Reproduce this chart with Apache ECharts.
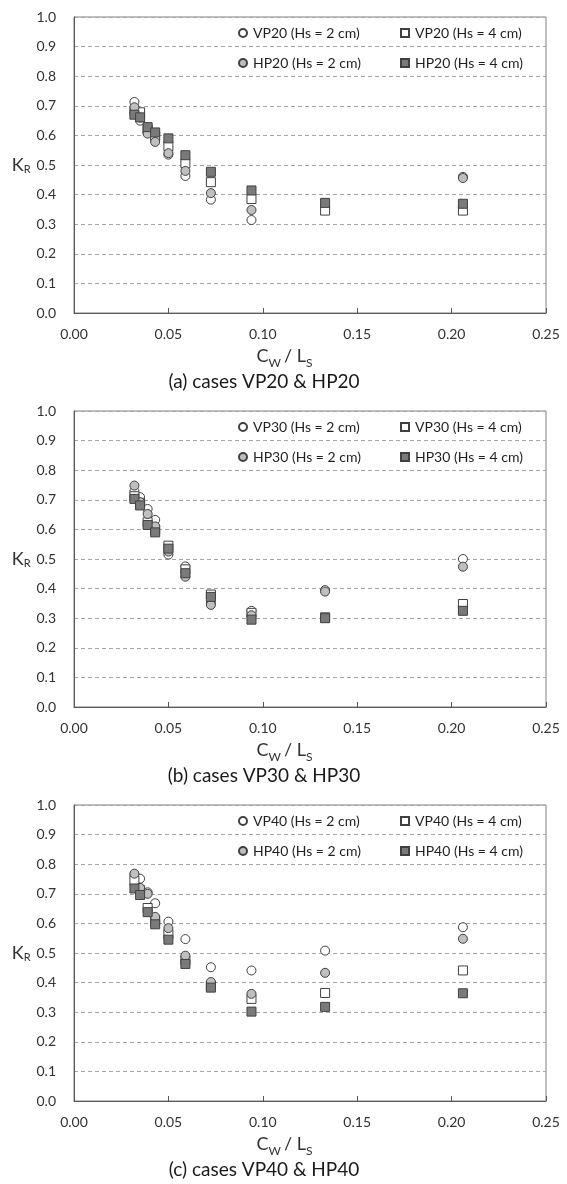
<!DOCTYPE html>
<html>
<head>
<meta charset="utf-8">
<script src="https://cdn.jsdelivr.net/npm/echarts@6/dist/echarts.min.js"></script>
<style>
  html, body { margin: 0; padding: 0; background: #ffffff; }
  #chart { width: 567px; height: 1184px; }
</style>
</head>
<body>
<div id="chart"></div>
<script>
// ---- data ----
const xVals = [0.032, 0.035, 0.039, 0.043, 0.050, 0.059, 0.0725, 0.094, 0.133, 0.206];
const xTicks = [0, 0.05, 0.10, 0.15, 0.20, 0.25];
const yTicks = [0, 0.1, 0.2, 0.3, 0.4, 0.5, 0.6, 0.7, 0.8, 0.9, 1.0];

const vp20_2 = [0.713, 0.650, 0.610, 0.585, 0.535, 0.463, 0.383, 0.314, null, 0.460];
const vp20_4 = [0.683, 0.678, 0.620, 0.600, 0.564, 0.506, 0.442, 0.385, 0.346, 0.346];
const hp20_2 = [0.695, 0.660, 0.606, 0.578, 0.540, 0.480, 0.405, 0.348, null, 0.456];
const hp20_4 = [0.670, 0.661, 0.628, 0.610, 0.590, 0.533, 0.477, 0.414, 0.372, 0.369];

const vp30_2 = [0.729, 0.709, 0.669, 0.632, 0.515, 0.475, 0.350, 0.325, 0.395, 0.500];
const vp30_4 = [0.712, 0.690, 0.624, 0.600, 0.545, 0.465, 0.380, 0.318, 0.303, 0.348];
const hp30_2 = [0.748, 0.692, 0.652, 0.610, 0.525, 0.440, 0.345, 0.310, 0.390, 0.474];
const hp30_4 = [0.703, 0.681, 0.615, 0.590, 0.535, 0.452, 0.372, 0.295, 0.300, 0.325];

const vp40_2 = [0.765, 0.751, 0.705, 0.668, 0.606, 0.547, 0.452, 0.441, 0.508, 0.587];
const vp40_4 = [0.745, 0.712, 0.652, 0.610, 0.564, 0.475, 0.390, 0.345, 0.365, 0.441];
const hp40_2 = [0.768, 0.720, 0.700, 0.622, 0.584, 0.491, 0.402, 0.362, 0.433, 0.548];
const hp40_4 = [0.718, 0.696, 0.638, 0.597, 0.545, 0.463, 0.383, 0.302, 0.318, 0.364];

const panels = [
  { tag: '20', caption: '(a) cases VP20 & HP20', vp2: vp20_2, vp4: vp20_4, hp2: hp20_2, hp4: hp20_4 },
  { tag: '30', caption: '(b) cases VP30 & HP30', vp2: vp30_2, vp4: vp30_4, hp2: hp30_2, hp4: hp30_4 },
  { tag: '40', caption: '(c) cases VP40 & HP40', vp2: vp40_2, vp4: vp40_4, hp2: hp40_2, hp4: hp40_4 }
];

// ---- layout/style ----
const FONT = 'Lato, "Open Sans", sans-serif';
const gridTops = [17, 411, 805];
const gridLeft = 74, gridW = 472, gridH = 296;
const TXT = '#333333';

const styles = {
  vp2: { symbol: 'circle', color: '#ffffff' },
  vp4: { symbol: 'rect', color: '#ffffff' },
  hp2: { symbol: 'circle', color: '#bfbfbf' },
  hp4: { symbol: 'rect', color: '#7a7a7a' }
};

const grids = [], xAxes = [], yAxes = [], series = [], legends = [], titles = [];

function pairs(arr) {
  const out = [];
  arr.forEach((v, i) => { if (v !== null) out.push([xVals[i], v]); });
  return out;
}

panels.forEach((p, k) => {
  const top = gridTops[k];
  grids.push({ left: gridLeft, top: top, width: gridW, height: gridH, show: true,
    borderColor: '#808080', borderWidth: 1, backgroundColor: 'transparent' });
  xAxes.push({
    type: 'value', gridIndex: k, min: 0, max: 0.25, interval: 0.05,
    axisLine: { show: true, lineStyle: { color: '#595959', width: 1 } },
    axisTick: { show: true, inside: true, length: 5, lineStyle: { color: '#595959' } },
    splitLine: { show: false },
    axisLabel: { fontFamily: FONT, fontSize: 14, color: TXT, margin: 14,
      formatter: v => v.toFixed(2) },
    name: '{b|C}{s|W}{b|/ L}{s|S}',
    nameLocation: 'middle', nameGap: 32,
    nameTextStyle: { padding: [0, 48, 0, 0],
      rich: {
        b: { fontFamily: FONT, fontSize: 18, color: TXT, verticalAlign: 'bottom', lineHeight: 20 },
        s: { fontFamily: FONT, fontSize: 12, color: TXT, verticalAlign: 'bottom', lineHeight: 14, padding: [0, 3, -4, 0] }
      } }
  });
  yAxes.push({
    type: 'value', gridIndex: k, min: 0, max: 1, interval: 0.1,
    axisLine: { show: true, lineStyle: { color: '#595959', width: 1 } },
    axisTick: { show: false },
    splitLine: { show: true, lineStyle: { color: '#a6a6a6', type: [4, 3], width: 1 } },
    axisLabel: { fontFamily: FONT, fontSize: 14, color: TXT, margin: 18,
      formatter: v => v.toFixed(1) },
    name: '{b|K}{s|R}',
    nameLocation: 'middle', nameRotate: 0, nameGap: 42,
    nameTextStyle: {
      rich: {
        b: { fontFamily: FONT, fontSize: 18, color: TXT },
        s: { fontFamily: FONT, fontSize: 11, color: TXT, padding: [8, 0, 0, 0] }
      } }
  });
  const names = {
    vp2: 'VP' + p.tag + ' (Hs = 2 cm)',
    vp4: 'VP' + p.tag + ' (Hs = 4 cm)',
    hp2: 'HP' + p.tag + ' (Hs = 2 cm)',
    hp4: 'HP' + p.tag + ' (Hs = 4 cm)'
  };
  ['vp2', 'vp4', 'hp2', 'hp4'].forEach(key => {
    series.push({
      type: 'scatter', name: names[key], xAxisIndex: k, yAxisIndex: k,
      data: pairs(p[key]), symbol: styles[key].symbol, symbolSize: 9,
      itemStyle: { color: styles[key].color, borderColor: '#404040', borderWidth: 1, opacity: 1 },
      emphasis: { disabled: true }, silent: true, animation: false
    });
  });
  const legPos = {
    vp2: [238, top + 8], vp4: [400, top + 8],
    hp2: [238, top + 38], hp4: [400, top + 38]
  };
  ['vp2', 'vp4', 'hp2', 'hp4'].forEach(key => {
    legends.push({
      data: [names[key]], left: legPos[key][0], top: legPos[key][1], padding: 0,
      itemWidth: 8, itemHeight: 8, itemGap: 0, selectedMode: false,
      textStyle: { fontFamily: FONT, fontSize: 14, color: '#1f1f1f', lineHeight: 16, padding: [0, 0, 0, 1] }
    });
  });
  titles.push({
    text: p.caption, left: 264, top: top + 355, textAlign: 'center', padding: 0,
    textStyle: { fontFamily: FONT, fontSize: 19, fontWeight: 'normal', color: '#1a1a1a' }
  });
});

const chart = echarts.init(document.getElementById('chart'), null, { renderer: 'canvas' });
chart.setOption({
  backgroundColor: '#ffffff',
  animation: false,
  title: titles,
  legend: legends,
  grid: grids,
  xAxis: xAxes,
  yAxis: yAxes,
  series: series
});
</script>
</body>
</html>
